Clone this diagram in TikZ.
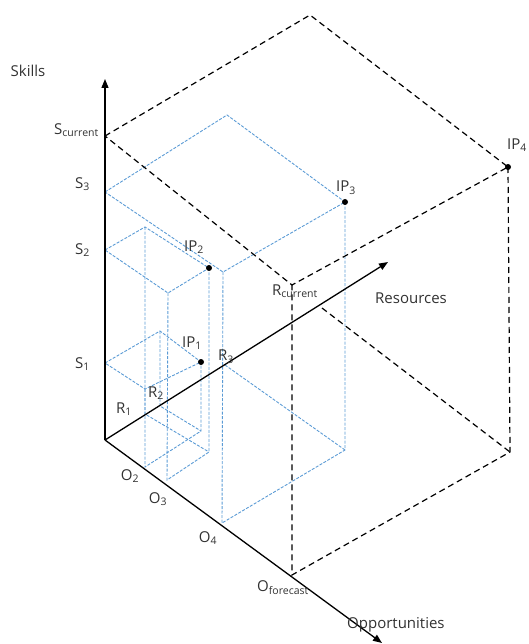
\documentclass[tikz,border=0pt]{standalone}
\usepackage{fontspec}
\setmainfont{Open Sans}
\usetikzlibrary{arrows.meta}
\definecolor{bluec}{RGB}{91,155,213}
\definecolor{txt}{RGB}{50,50,50}
\begin{document}
\begin{tikzpicture}[x=1pt,y=-1pt,
  axisline/.style={line width=1.3pt, -{Triangle[length=9pt,width=7pt]}},
  cur/.style={line width=1.2pt, dash pattern=on 6pt off 4pt},
  blu/.style={draw=bluec, line width=0.9pt, dash pattern=on 3pt off 1.5pt},
  lbl/.style={font=\fontsize{15}{17}\selectfont, text=txt, inner sep=0pt},
  ipdot/.style={circle, fill=black, inner sep=0pt, minimum size=6pt}]
\useasboundingbox (0,0) rectangle (528,644);
% axes points
\coordinate (O0) at (105,440);
\coordinate (Sk) at (105,79);
\coordinate (Rs) at (388,262);
\coordinate (Op) at (382,643);
% big (current) box
\coordinate (Sc) at (105,136);
\coordinate (T) at (310,15);
\coordinate (IP4c) at (508,167);
\coordinate (Fc) at (292,285);
\coordinate (BR) at (510,452);
\coordinate (Of) at (292,575);
\coordinate (Rc) at (322,308);
% box 3
\coordinate (A3) at (105,192);
\coordinate (B3) at (227,115);
\coordinate (C3) at (345,202);
\coordinate (D3) at (223,272);
\coordinate (E3) at (222,523);
\coordinate (F3) at (345,450);
\coordinate (G3) at (225,365);
% box 2
\coordinate (A2) at (105,250);
\coordinate (B2) at (145,227);
\coordinate (C2) at (209,268);
\coordinate (D2) at (168,293);
\coordinate (E2) at (167,480);
\coordinate (F2) at (209,452);
\coordinate (G2) at (145,414);
% box 1
\coordinate (A1) at (105,363);
\coordinate (B1) at (160,331);
\coordinate (C1) at (201,362);
\coordinate (D1) at (145,389);
\coordinate (E1) at (145,467);
\coordinate (F1) at (201,431);
\coordinate (G1) at (160,406);
% blue boxes
\draw[blu] (A3) -- (B3) -- (C3) -- (D3) -- cycle;
\draw[blu] (D3) -- (E3) -- (F3) -- (C3);
\draw[blu] (G3) -- (F3);
\draw[blu] (A2) -- (B2) -- (C2) -- (D2) -- cycle;
\draw[blu] (D2) -- (E2) -- (F2) -- (C2);
\draw[blu] (B2) -- (G2) -- (F2);
\draw[blu] (A1) -- (B1) -- (C1) -- (D1) -- cycle;
\draw[blu] (D1) -- (E1) -- (F1) -- (C1);
\draw[blu] (B1) -- (G1) -- (F1);
% current box
\draw[cur] (Sc) -- (T) -- (IP4c) -- (Fc) -- cycle;
\draw[cur] (IP4c) -- (BR) -- (Of) -- (Fc);
\draw[cur] (Rc) -- (BR);
% axes
\draw[axisline] (O0) -- (Sk);
\draw[axisline] (O0) -- (Rs);
\draw[axisline] (O0) -- (Op);
% points
\node[ipdot] (ip1) at (C1) {};
\node[ipdot] (ip2) at (C2) {};
\node[ipdot] (ip3) at (C3) {};
\node[ipdot] (ip4) at (IP4c) {};
% labels
\node[lbl] (lSk) at (28,71) {Skills};
\node[lbl, anchor=east] (lSc) at (99,130) {S\textsubscript{current}};
\node[lbl, anchor=east] (lS3) at (90,184) {S\textsubscript{3}};
\node[lbl, anchor=east] (lS2) at (90,250) {S\textsubscript{2}};
\node[lbl, anchor=east] (lS1) at (90,364) {S\textsubscript{1}};
\node[lbl] (lR1) at (124,409) {R\textsubscript{1}};
\node[lbl] (lR2) at (156,393) {R\textsubscript{2}};
\node[lbl] (lR3) at (226,357) {R\textsubscript{3}};
\node[lbl, anchor=west] (lRc) at (272,291) {R\textsubscript{current}};
\node[lbl] (lIP1) at (192,343) {IP\textsubscript{1}};
\node[lbl] (lIP2) at (194,247) {IP\textsubscript{2}};
\node[lbl] (lIP3) at (346,188) {IP\textsubscript{3}};
\node[lbl] (lIP4) at (517,145) {IP\textsubscript{4}};
\node[lbl] (lO2) at (130,476) {O\textsubscript{2}};
\node[lbl] (lO3) at (158,499) {O\textsubscript{3}};
\node[lbl] (lO4) at (208,538) {O\textsubscript{4}};
\node[lbl, anchor=west] (lOf) at (257,588) {O\textsubscript{forecast}};
\node[lbl] (lRes) at (411,298) {Resources};
\node[lbl, anchor=west] (lOpp) at (347,625) {Opportunities};
\end{tikzpicture}
\end{document}
